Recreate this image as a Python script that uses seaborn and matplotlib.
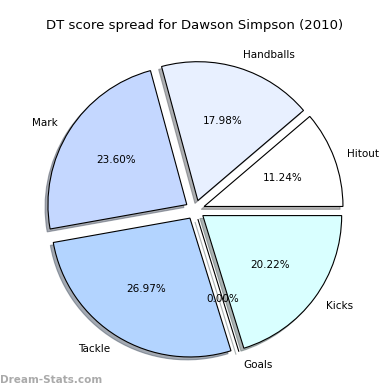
import matplotlib
matplotlib.use("Agg")
import matplotlib.pyplot as plt
import seaborn as sns

# ------------------------------------------------------------------
# Data
# ------------------------------------------------------------------

labels = ["Hitout", "Handballs", "Mark", "Tackle", "Goals", "Kicks"]
points = [10, 16, 21, 24, 0, 18]
colors = ["#ffffff", "#e8f0ff", "#c4d7ff", "#b3d4ff", "#e0ffff", "#d9ffff"]

sns.set_style("white")
plt.rcParams["font.family"] = ["DejaVu Sans"]
plt.rcParams["text.color"] = "black"

fig = plt.figure(figsize=(3.9, 3.9), dpi=100)
ax = fig.add_axes([0.055, 0.017, 0.89, 0.89])

ax.pie(
    points,
    labels=labels,
    colors=colors,
    explode=[0.07] * len(points),
    autopct="%1.2f%%",
    shadow={"ox": -0.015, "oy": -0.015, "shade": 0.6},
    startangle=0,
    wedgeprops={"edgecolor": "black", "linewidth": 0.8},
    textprops={"fontsize": 7.5, "color": "black"},
)
ax.set_aspect("equal")

fig.suptitle("DT score spread for Dawson Simpson (2010)", fontsize=9.5,
             y=0.95, color="black")

fig.text(0.0, 0.018, "Dream-Stats.com", fontsize=7.5, color="#aaaaaa",
         fontweight="bold")

plt.savefig("out.png", dpi=100)
plt.close()
